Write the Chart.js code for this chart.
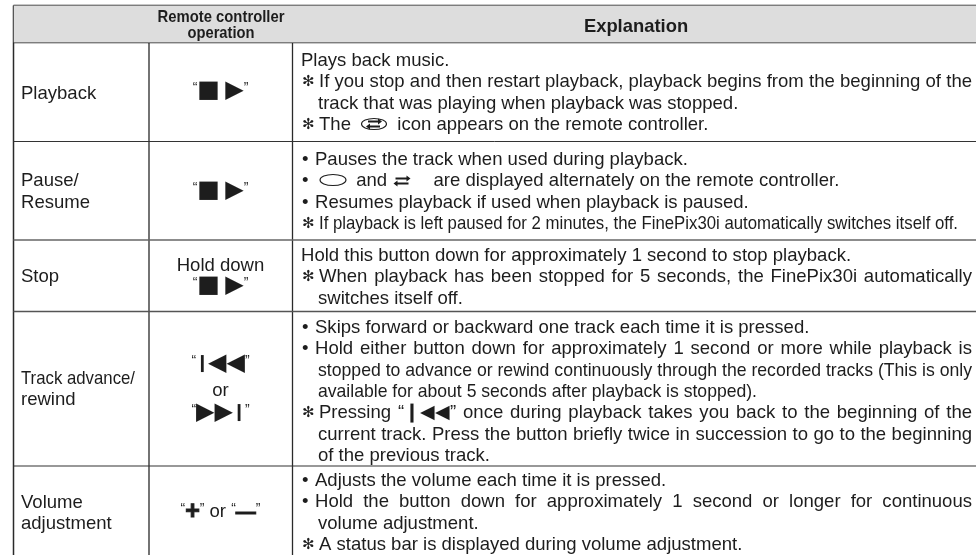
<!DOCTYPE html>
<html lang="en">
<head>
    <meta charset="UTF-8">
    <title>Remote controller operation</title>
    <script src="https://cdnjs.cloudflare.com/ajax/libs/Chart.js/4.4.1/chart.umd.min.js"></script>
    <style>
        html, body { margin: 0; padding: 0; background: #fff; }
        canvas { display: block; }
    </style>
</head>
<body>
    <canvas id="tableChart" width="976" height="555"></canvas>

    <script>
        // Table contents
        const headerOperation = ['Remote controller', 'operation'];
        const headerExplanation = 'Explanation';
        const rowLabels = [
            ['Playback'],
            ['Pause/', 'Resume'],
            ['Stop'],
            ['Track advance/', 'rewind'],
            ['Volume', 'adjustment']
        ];
        const operationLines = [
            ['“■ ▶”'],
            ['“■ ▶”'],
            ['Hold down', '“■ ▶”'],
            ['“❙◀◀”', 'or', '“▶▶❙”'],
            ['“+” or “—”']
        ];
        const explanationLines = [
            ['Plays back music.',
             '✻ If you stop and then restart playback, playback begins from the beginning of the',
             '  track that was playing when playback was stopped.',
             '✻ The         icon appears on the remote controller.'],
            ['• Pauses the track when used during playback.',
             '•         and         are displayed alternately on the remote controller.',
             '• Resumes playback if used when playback is paused.',
             '✻ If playback is left paused for 2 minutes, the FinePix30i automatically switches itself off.'],
            ['Hold this button down for approximately 1 second to stop playback.',
             '✻ When playback has been stopped for 5 seconds, the FinePix30i automatically',
             '  switches itself off.'],
            ['• Skips forward or backward one track each time it is pressed.',
             '• Hold either button down for approximately 1 second or more while playback is',
             '  stopped to advance or rewind continuously through the recorded tracks (This is only',
             '  available for about 5 seconds after playback is stopped).',
             '✻ Pressing “❙◀◀” once during playback takes you back to the beginning of the',
             '  current track. Press the button briefly twice in succession to go to the beginning',
             '  of the previous track.'],
            ['• Adjusts the volume each time it is pressed.',
             '• Hold the button down for approximately 1 second or longer for continuous',
             '  volume adjustment.',
             '✻ A status bar is displayed during volume adjustment.']
        ];

        // Layout, in picture units
        const columnEdges = [13.5, 149, 292.5, 976];
        const rowEdges = [5.5, 42.5, 141.5, 240, 311.5, 466, 555];
        const ruleColors = ['#1c1c1c', '#1c1c1c', '#333333', '#666666', '#555555', '#333333'];
        const ruleWidths = [1.5, 1.5, 1, 1.5, 1.5, 1.2];
        const labelY = [[94], [181, 202.5], [277], [379, 400], [502.5, 523.5]];
        const operationY = [[91], [191], [266, 286], [364, 391, 413], [512]];
        const explanationY = [61, 160, 256, 328, 481];
        const lineStep = 21.3;
        const justified = ['0:1', '2:1', '3:1', '3:2', '3:4', '3:5', '4:1'];
        const condensedEnds = { '1:3': 958, '3:3': 757 };
        const textColor = '#1d1d1d';
        const bodyFont = '18.55px "Liberation Sans", Arial, sans-serif';
        const markFont = 'bold 15px "DejaVu Sans", sans-serif';

        const iconPoints = [
            { x: 374, y: 124, kind: 'loop' },
            { x: 333, y: 180, kind: 'oval' },
            { x: 402, y: 181, kind: 'arrows' }
        ];

        function makeIcon(kind) {
            const c = document.createElement('canvas');
            c.width = 30;
            c.height = 14;
            const g = c.getContext('2d');
            g.strokeStyle = textColor;
            g.fillStyle = textColor;
            g.lineWidth = 1.1;
            if (kind !== 'arrows') {
                g.beginPath();
                g.ellipse(15, 7, kind === 'oval' ? 13 : 12.5, 5.5, 0, 0, Math.PI * 2);
                g.stroke();
            }
            if (kind !== 'oval') {
                const half = kind === 'loop' ? 6 : 6.5;
                g.lineWidth = 2;
                g.beginPath();
                g.moveTo(15 - half, 4.5); g.lineTo(15 + half, 4.5);
                g.moveTo(15 - half, 9.5); g.lineTo(15 + half, 9.5);
                g.stroke();
                [[15 + half + 2, 4.5, -1], [15 - half - 2, 9.5, 1]].forEach(([ax, ay, dir]) => {
                    g.beginPath();
                    g.moveTo(ax, ay);
                    g.lineTo(ax + dir * 4, ay - 3);
                    g.lineTo(ax + dir * 4, ay + 3);
                    g.fill();
                });
            }
            return c;
        }

        function ruleDataset(x1, y1, x2, y2, color, width) {
            return {
                data: [{ x: x1, y: y1 }, { x: x2, y: y2 }],
                showLine: true,
                borderColor: color,
                borderWidth: width,
                pointRadius: 0,
                clip: false
            };
        }

        const left = columnEdges[0];
        const right = columnEdges[3];
        const bottom = rowEdges[6];

        const datasets = [{
            // Grey header band
            data: [{ x: left, y: rowEdges[0] }, { x: right, y: rowEdges[0] }],
            showLine: true,
            borderWidth: 0,
            pointRadius: 0,
            backgroundColor: '#dddddd',
            fill: { target: { value: rowEdges[1] } }
        }];
        rowEdges.slice(0, 6).forEach((y, i) => {
            datasets.push(ruleDataset(left, y, right, y, ruleColors[i], ruleWidths[i]));
        });
        columnEdges.slice(0, 3).forEach(x => {
            datasets.push(ruleDataset(x, rowEdges[0], x, bottom, '#2a2a2a', x === left ? 1.5 : 1.3));
        });
        datasets.push(ruleDataset(15, rowEdges[0] + 0.5, columnEdges[1], rowEdges[1], '#1c1c1c', 1.3));
        datasets.push({
            data: iconPoints.map(p => ({ x: p.x, y: p.y })),
            pointStyle: iconPoints.map(p => makeIcon(p.kind)),
            showLine: false
        });

        // Quotes are small, button glyphs large, the rest body size
        function drawOperation(ctx, text, cx, y) {
            const isGlyphLine = /[■▶◀❙+—]/.test(text);
            if (!isGlyphLine) {
                ctx.font = bodyFont;
                ctx.textAlign = 'center';
                ctx.fillText(text, cx, y);
                return;
            }
            const runs = Array.from(text).map(ch => {
                if (ch === '“' || ch === '”') return [ch, '14px "Liberation Sans"'];
                if (ch === '+') return [ch, 'bold 25px "Liberation Sans"'];
                if (ch === '—') return [ch, 'bold 20px "Liberation Sans"'];
                if (ch === ' ' || ch === 'o' || ch === 'r') return [ch, bodyFont];
                if (ch === '❙') return [ch, 'bold 17px "DejaVu Sans"', 12];
                return [ch, '24px "DejaVu Sans"'];
            });
            const advance = r => {
                ctx.font = r[1];
                return r[2] || ctx.measureText(r[0]).width;
            };
            let x = cx - runs.reduce((sum, r) => sum + advance(r), 0) / 2;
            ctx.textAlign = 'left';
            ctx.strokeStyle = textColor;
            ctx.lineWidth = 1;
            runs.forEach(r => {
                const w = advance(r);
                if (r[2]) {
                    // the bar glyph has a wide box, centre it in a narrow slot
                    ctx.fillText(r[0], x + (w - ctx.measureText(r[0]).width) / 2, y);
                } else {
                    ctx.fillText(r[0], x, r[0] === '“' || r[0] === '”' ? y - 3 : y);
                }
                if (r[0] === '+' || r[0] === '—') ctx.strokeText(r[0], x, y);
                x += w;
            });
        }

        const tableText = {
            id: 'tableText',
            afterDatasetsDraw(chart) {
                const { ctx, scales: { x: sx, y: sy } } = chart;
                ctx.save();
                ctx.fillStyle = textColor;
                ctx.textBaseline = 'middle';

                // Header
                ctx.textAlign = 'center';
                ctx.font = 'bold 16.5px "Liberation Sans", Arial, sans-serif';
                ctx.fillText(headerOperation[0], sx.getPixelForValue(221), sy.getPixelForValue(17.5), 127);
                ctx.fillText(headerOperation[1], sx.getPixelForValue(221), sy.getPixelForValue(33.5), 67);
                ctx.font = 'bold 18.4px "Liberation Sans", Arial, sans-serif';
                ctx.fillText(headerExplanation, sx.getPixelForValue(636), sy.getPixelForValue(26.5));

                rowLabels.forEach((lines, r) => {
                    ctx.textAlign = 'left';
                    ctx.font = bodyFont;
                    lines.forEach((line, i) => {
                        ctx.fillText(line, sx.getPixelForValue(21), sy.getPixelForValue(labelY[r][i]), 114);
                    });
                    operationLines[r].forEach((line, i) => {
                        drawOperation(ctx, line, sx.getPixelForValue(220.5), sy.getPixelForValue(operationY[r][i]));
                    });
                    ctx.textAlign = 'left';
                    ctx.font = bodyFont;
                    explanationLines[r].forEach((line, i) => {
                        const y = sy.getPixelForValue(explanationY[r] + i * lineStep);
                        const key = r + ':' + i;
                        const mark = line[0];
                        let x = 301;
                        let body = line;
                        if (mark === '•') {
                            ctx.fillText(mark, sx.getPixelForValue(302), y);
                            body = line.slice(2);
                            x = 315;
                        } else if (mark === '✻') {
                            ctx.font = markFont;
                            ctx.fillText(mark, sx.getPixelForValue(302), y);
                            ctx.font = bodyFont;
                            body = line.slice(2);
                            x = 319;
                        } else if (line.startsWith('  ')) {
                            body = line.slice(2);
                            x = 318;
                        }
                        const px = sx.getPixelForValue(x);
                        if (justified.includes(key)) {
                            const room = sx.getPixelForValue(972) - px;
                            const extra = room - ctx.measureText(body).width;
                            if (extra < 0) {
                                ctx.fillText(body, px, y, room);
                            } else {
                                ctx.wordSpacing = (extra / (body.split(' ').length - 1)) + 'px';
                                ctx.fillText(body, px, y);
                                ctx.wordSpacing = '0px';
                            }
                        } else if (condensedEnds[key]) {
                            ctx.fillText(body, px, y, sx.getPixelForValue(condensedEnds[key]) - px);
                        } else {
                            ctx.fillText(body, px, y);
                        }
                    });
                });
                ctx.restore();
            }
        };

        new Chart(document.getElementById('tableChart'), {
            type: 'scatter',
            data: { datasets },
            plugins: [tableText],
            options: {
                responsive: false,
                animation: false,
                layout: { padding: 0, autoPadding: false },
                plugins: { legend: { display: false }, tooltip: { enabled: false } },
                scales: {
                    x: { type: 'linear', display: false, min: 0, max: 976 },
                    y: { type: 'linear', display: false, min: 0, max: 555, reverse: true }
                }
            }
        });
    </script>
</body>
</html>
